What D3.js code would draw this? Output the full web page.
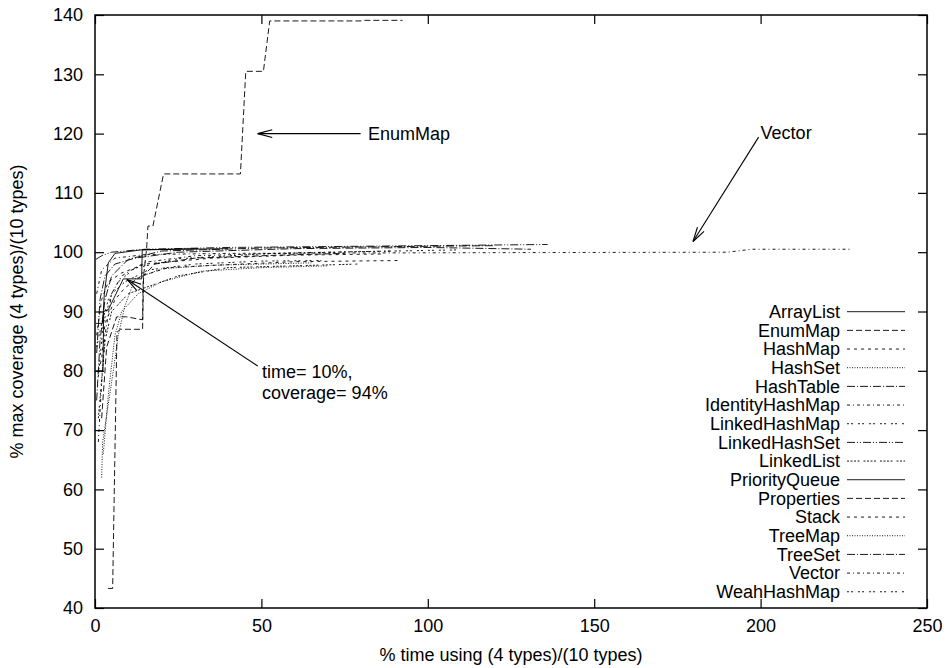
<!DOCTYPE html>
<html>
<head>
<meta charset="utf-8">
<script src="https://cdn.jsdelivr.net/npm/d3@7"></script>
<style>
  html, body { margin: 0; padding: 0; background: #fff; }
  svg text { font-family: "Liberation Sans", Arial, Helvetica, sans-serif; fill: #000; }
</style>
</head>
<body>
<svg id="chart" width="950" height="668"></svg>
<script>
// ---------------- DATA ----------------
const seriesNames = ["ArrayList","EnumMap","HashMap","HashSet","HashTable","IdentityHashMap",
  "LinkedHashMap","LinkedHashSet","LinkedList","PriorityQueue","Properties","Stack",
  "TreeMap","TreeSet","Vector","WeahHashMap"];

const arrayListPts = [[0.3,88],[2.3,88],[2.8,93],[4,98.2],[6,99.8],[14,100.4],[31,100.6]];
const enumMapPts = [[3.9,43.3],[5.3,43.3],[6.6,86.5],[7.6,87],[14.3,87],[14.6,96],[15.5,100.5],[15.9,104.4],[17.4,104.4],[20.6,113.2],[43.7,113.2],[45.3,130.5],[50.6,130.5],[52.5,139],[80,139],[81,139.1],[92.4,139.1]];
const hashMapPts = [[1,80],[2,82],[3,88],[6,92],[9,94],[14,96],[22,97.4],[40,97.9],[60,98.4],[92,98.6]];
const hashSetPts = [[2,62],[2.3,68],[5.5,80],[7,86],[9,91],[12,95.5],[20,97.2],[35,97.8],[65,98.2]];
const hashTablePts = [[0.5,75],[1.5,85],[3,92],[5,96],[10,98.8],[20,100.2],[50,100.7],[100,101],[120,101.1]];
const identityHashMapPts = [[1,68],[2,78],[3,86],[5,93],[8,96],[15,98.3],[30,99.4],[60,99.9],[90,100.2]];
const linkedHashMapPts = [[0.5,84],[2,88],[4,92],[7,95],[12,97.3],[25,98.9],[50,99.7],[80,100.1],[110,100.4]];
const linkedHashSetPts = [[0.3,98.8],[2,99.4],[5,100],[15,100.5],[40,100.8],[80,101],[136,101.3]];
const linkedListPts = [[1,72],[3,85],[5,90],[10,93],[15,94],[25,96],[40,97.4],[79,98]];
const priorityQueuePts = [[0.3,80],[2.4,80],[2.6,90],[4,90.3],[8.5,95.5],[14,95.5],[14.2,100.4],[40,100.6]];
const propertiesPts = [[2,72],[3.5,84],[6.5,89.1],[9.5,89.1],[14.3,88.6],[14.5,96],[18,98],[30,99],[55,99.5],[75,99.8]];
const stackPts = [[0.5,86],[2,92],[4,95],[8,96.5],[15,98],[35,99],[60,99.5],[86,99.7]];
const treeMapPts = [[2.5,66],[4,76],[6,86],[8,90],[13,93],[20,95],[32,96.8],[50,97.4],[70,97.7]];
const treeSetPts = [[0.5,83],[1.5,92],[3,96],[6,98],[12,99],[25,100],[60,100.6],[100,100.8],[131,100.5]];
const vectorPts = [[0.5,93],[2,97],[6,99],[15,99.6],[40,99.8],[100,99.9],[190,100],[197.4,100.5],[227,100.5]];
const weahHashMapPts = [[1,79],[2.5,88],[5,93],[9,95],[16,97],[30,98],[50,98.5],[68,98.6]];

const seriesPoints = [arrayListPts, enumMapPts, hashMapPts, hashSetPts, hashTablePts, identityHashMapPts,
  linkedHashMapPts, linkedHashSetPts, linkedListPts, priorityQueuePts, propertiesPts, stackPts,
  treeMapPts, treeSetPts, vectorPts, weahHashMapPts];

const xTicks = [0,50,100,150,200,250];
const yTicks = [40,50,60,70,80,90,100,110,120,130,140];

const xTitle = "% time using (4 types)/(10 types)";
const yTitle = "% max coverage (4 types)/(10 types)";

// annotations (data units)
const annEnum = {text:["EnumMap"], tx:82, ty:120, fx:79.8, fy:120, ax:48.9, ay:120};
const annVector = {text:["Vector"], tx:200, ty:120.2, fx:199.4, fy:119.4, ax:179.7, ay:101.8};
const annTime = {text:["time= 10%,","coverage= 94%"], tx:50.2, ty:79.8, fx:48.9, fy:80.8, ax:9.6, ay:95.4};

// ---------------- LAYOUT ----------------
const svg = d3.select("#chart");
const L = 95, R = 927, T = 15, B = 608;
const FS = 18;
const x = d3.scaleLinear().domain([0,250]).range([L,R]);
const y = d3.scaleLinear().domain([40,140]).range([B,T]);

const dashes = [null, "6,3", "3,4", "1,1.5", "8,2,1,2", "3,3,1,3", "2,2,2,5", "8,2,1,2,1,2", "2,1.5,2,1.5,2,1.5,2,4"];
const dashFor = i => dashes[i % dashes.length];

const tickLen = 9;
const gB = svg.append("g").attr("transform",`translate(0,${B})`)
  .call(d3.axisBottom(x).tickValues(xTicks).tickSize(-tickLen).tickPadding(tickLen+2).tickFormat(d3.format("d")));
const gT = svg.append("g").attr("transform",`translate(0,${T})`)
  .call(d3.axisTop(x).tickValues(xTicks).tickSize(-tickLen).tickFormat(""));
const gL = svg.append("g").attr("transform",`translate(${L},0)`)
  .call(d3.axisLeft(y).tickValues(yTicks).tickSize(-tickLen).tickPadding(tickLen+3).tickFormat(d3.format("d")));
const gR = svg.append("g").attr("transform",`translate(${R},0)`)
  .call(d3.axisRight(y).tickValues(yTicks).tickSize(-tickLen).tickFormat(""));
[gB,gT,gL,gR].forEach(g => {
  g.select(".domain").remove();
  g.selectAll(".tick line").attr("stroke","#000").attr("stroke-width",1.2);
  g.selectAll(".tick text").attr("font-size",FS).attr("fill","#000")
    .style("font-family","'Liberation Sans', Arial, sans-serif");
});

svg.append("rect").attr("x",L).attr("y",T).attr("width",R-L).attr("height",B-T)
  .attr("fill","none").attr("stroke","#000").attr("stroke-width",1.5);

svg.append("text").attr("x",(L+R)/2).attr("y",661).attr("text-anchor","middle")
  .attr("font-size",FS).text(xTitle);
svg.append("text").attr("transform",`translate(23,${(T+B)/2}) rotate(-90)`).attr("text-anchor","middle")
  .attr("font-size",FS).text(yTitle);

const line = d3.line().x(d => x(d[0])).y(d => y(d[1]));
const gS = svg.append("g");
seriesPoints.forEach((pts,i) => {
  gS.append("path").datum(pts).attr("d",line)
    .attr("fill","none").attr("stroke","#000").attr("stroke-width",0.9)
    .attr("stroke-dasharray",dashFor(i));
});

const legTextX = 840, legY0 = 311.7, legStep = 18.67, legX1 = 847, legX2 = 905;
seriesNames.forEach((name,i) => {
  const yy = legY0 + i*legStep;
  svg.append("text").attr("x",legTextX).attr("y",yy).attr("dy","0.35em")
    .attr("text-anchor","end").attr("font-size",FS).text(name);
  svg.append("line").attr("x1",legX1).attr("x2",legX2).attr("y1",yy).attr("y2",yy)
    .attr("stroke","#000").attr("stroke-width",0.9).attr("stroke-dasharray",dashFor(i));
});

function arrow(a){
  const x1 = x(a.fx), y1 = y(a.fy), x2 = x(a.ax), y2 = y(a.ay);
  svg.append("line").attr("x1",x1).attr("y1",y1).attr("x2",x2).attr("y2",y2)
    .attr("stroke","#000").attr("stroke-width",1.1);
  const ang = Math.atan2(y1-y2, x1-x2), hl = 15, ha = 0.26;
  [ang-ha, ang+ha].forEach(t => {
    svg.append("line").attr("x1",x2).attr("y1",y2)
      .attr("x2",x2+hl*Math.cos(t)).attr("y2",y2+hl*Math.sin(t))
      .attr("stroke","#000").attr("stroke-width",1.1);
  });
  a.text.forEach((t,k) => {
    svg.append("text").attr("x",x(a.tx)).attr("y",y(a.ty)+k*21).attr("dy","0.35em")
      .attr("font-size",FS).text(t);
  });
}
[annEnum, annVector, annTime].forEach(arrow);
</script>
</body>
</html>
